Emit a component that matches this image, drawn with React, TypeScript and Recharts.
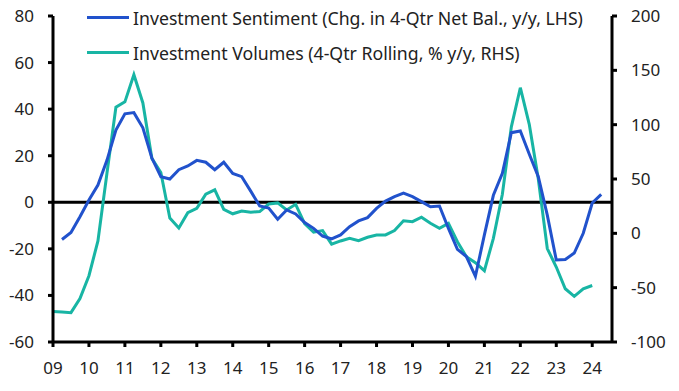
import React from "react";
import { LineChart, Line, XAxis, YAxis, ReferenceLine } from "recharts";

// quarterly, first point = 2009 Q1
const FIRST_YEAR = 2009;

// Investment Sentiment (LHS), starts 2009 Q2
const sentiment = [
  null, -16, -13, -6.2, 1, 7.4, 18, 31, 38, 38.5, 32, 19, 11, 10, 14, 15.6,
  18, 17.2, 14, 17.2, 12.4, 11, 4.8, -1.6, -2.5, -7.3, -3.3, -5, -8.7, -11.2,
  -14.5, -15.7, -14, -10.5, -8, -6.6, -2.6, 0.5, 2.4, 3.9, 2.4, 0.3, -1.9,
  -1.6, -11.2, -20.2, -23.3, -31.8, -14, 3, 12.4, 29.9, 30.6, 20.6, 11, -5.5,
  -24.8, -24.6, -21.8, -13.3, -0.3, 3.4,
];

// Investment Volumes (RHS), ends 2024 Q1
const volumes = [
  -72, -72.5, -73, -60, -39, -7, 55, 116, 121, 146, 120, 69, 56, 14, 5, 19,
  23, 36, 40, 22, 18, 20.5, 19.5, 20, 27, 28, 21.5, 26.7, 9, 1, 2.5, -10, -7,
  -4.6, -6.8, -3.6, -1.5, -1.5, 2.5, 11.6, 10.7, 14.8, 9.2, 4.6, 9.2, -7.7,
  -21.5, -27, -34.4, -4.6, 36, 98, 134, 100, 50, -14, -31, -51, -58, -51, -48,
  null,
];

const yearTicks = [
  2009, 2010, 2011, 2012, 2013, 2014, 2015, 2016, 2017, 2018, 2019, 2020,
  2021, 2022, 2023, 2024,
];
const leftTicks = [-60, -40, -20, 0, 20, 40, 60, 80];
const rightTicks = [-100, -50, 0, 50, 100, 150, 200];

const BLUE = "#2152cc";
const TEAL = "#18b5a4";
const FONT = "'Noto Sans', sans-serif";

const data = sentiment.map((s, i) => ({
  t: FIRST_YEAR + i / 4,
  sentiment: s,
  volumes: volumes[i],
}));

const legendItems = [
  { color: BLUE, label: "Investment Sentiment (Chg. in 4-Qtr Net Bal., y/y, LHS)" },
  { color: TEAL, label: "Investment Volumes (4-Qtr Rolling, % y/y, RHS)" },
];

function ChartLegend() {
  return (
    <div
      style={{
        position: "absolute",
        left: 87,
        top: 0,
        fontFamily: FONT,
        fontSize: 17.7,
        color: "#222",
      }}
    >
      {legendItems.map((item) => (
        <div
          key={item.label}
          style={{ display: "flex", alignItems: "center", height: 35, whiteSpace: "nowrap" }}
        >
          <span
            style={{
              display: "inline-block",
              width: 42,
              height: 3,
              background: item.color,
              marginRight: 4,
            }}
          />
          <span>{item.label}</span>
        </div>
      ))}
    </div>
  );
}

const tickStyle = { fill: "#222", fontSize: 17, fontFamily: FONT };
const axisLine = { stroke: "#000", strokeWidth: 3 };

export default function App() {
  return (
    <div style={{ position: "absolute", left: 0, top: 0, width: 679, height: 391, background: "#fff" }}>
      <LineChart
        width={679}
        height={391}
        data={data}
        margin={{ top: 16, right: 0, bottom: 0, left: 0 }}
      >
        <XAxis
          dataKey="t"
          type="number"
          domain={[2009, 2024.55]}
          ticks={yearTicks}
          tickFormatter={(v) => String(v).slice(2)}
          height={49}
          tick={tickStyle}
          tickSize={5}
          tickMargin={15}
          axisLine={axisLine}
          tickLine={axisLine}
        />
        <YAxis
          yAxisId="left"
          domain={[-60, 80]}
          ticks={leftTicks}
          width={53}
          tick={tickStyle}
          tickSize={5}
          tickMargin={14}
          axisLine={axisLine}
          tickLine={axisLine}
        />
        <YAxis
          yAxisId="right"
          orientation="right"
          domain={[-100, 200]}
          ticks={rightTicks}
          width={67}
          tick={tickStyle}
          tickSize={5}
          tickMargin={14}
          axisLine={axisLine}
          tickLine={axisLine}
        />
        <ReferenceLine yAxisId="left" y={0} stroke="#000" strokeWidth={3} />
        <Line
          yAxisId="right"
          dataKey="volumes"
          stroke={TEAL}
          strokeWidth={3}
          dot={false}
          type="linear"
          isAnimationActive={false}
        />
        <Line
          yAxisId="left"
          dataKey="sentiment"
          stroke={BLUE}
          strokeWidth={3}
          dot={false}
          type="linear"
          isAnimationActive={false}
        />
      </LineChart>
      <ChartLegend />
    </div>
  );
}
